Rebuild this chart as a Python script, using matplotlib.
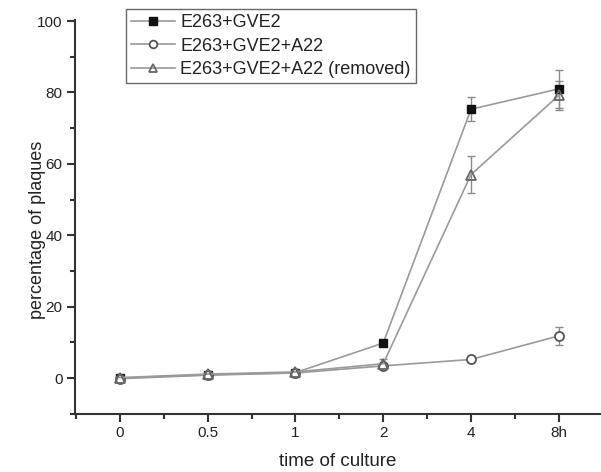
import matplotlib
matplotlib.use('Agg')
import matplotlib.pyplot as plt
from matplotlib.ticker import MultipleLocator
import numpy as np

plt.rcParams['font.family'] = ['Liberation Sans', 'DejaVu Sans']

# data
times = ['0', '0.5', '1', '2', '4', '8h']
gve2 = [0.0, 0.9, 1.5, 9.8, 75.3, 81.0]
gve2_err = [0.4, 0.5, 0.5, 0.6, 3.3, 5.3]
a22 = [-0.2, 0.8, 1.4, 3.4, 5.2, 11.8]
a22_err = [0.4, 0.4, 0.5, 0.6, 0.6, 2.6]
a22_removed = [0.1, 1.1, 1.7, 4.0, 57.0, 79.2]
a22_removed_err = [0.4, 0.5, 0.5, 1.4, 5.2, 4.0]

x = np.arange(len(times))

fig = plt.figure(figsize=(6.01, 4.72), dpi=100)
ax = fig.add_axes([75 / 601, 58.3 / 472, 526 / 601, 393.7 / 472])

line_col = '#9a9a9a'
err_kw = dict(fmt='none', ecolor='#8a8a8a', elinewidth=1.0, capsize=3, capthick=1.0)

# error bars first, kept out of the legend
ax.errorbar(x, gve2, yerr=gve2_err, **err_kw)
ax.errorbar(x, a22, yerr=a22_err, **err_kw)
ax.errorbar(x, a22_removed, yerr=a22_removed_err, **err_kw)

ax.plot(x, gve2, color=line_col, lw=1.2, marker='s',
        ms=6, mfc='#111111', mec='#111111', label='E263+GVE2')
ax.plot(x, a22, color=line_col, lw=1.2, marker='o',
        ms=6.5, mfc='white', mec='#555555', mew=1.3, label='E263+GVE2+A22')
ax.plot(x, a22_removed, color=line_col, lw=1.2, marker='^',
        ms=7, mfc='none', mec='#666666', mew=1.3, label='E263+GVE2+A22 (removed)')

ax.set_xlim(-0.51, 5.48)
ax.set_ylim(-10, 100.3)
ax.set_xticks(x)
ax.set_xticklabels(times)
ax.xaxis.set_minor_locator(MultipleLocator(0.5))
ax.yaxis.set_major_locator(MultipleLocator(20))
ax.yaxis.set_minor_locator(MultipleLocator(10))

for side in ['top', 'right']:
    ax.spines[side].set_visible(False)
for side in ['left', 'bottom']:
    ax.spines[side].set_linewidth(1.5)
    ax.spines[side].set_color('#333333')

ax.tick_params(which='major', direction='out', length=6, width=1.5,
               color='#333333', labelsize=11, labelcolor='#222222', pad=3)
ax.tick_params(which='minor', direction='out', length=3.5, width=1.5,
               color='#333333')

ax.set_xlabel('time of culture', fontsize=13.5, color='#222222')
ax.set_ylabel('percentage of plaques', fontsize=13, color='#222222')
ax.xaxis.set_label_coords(0.5, -0.1)
ax.yaxis.set_label_coords(-0.055, 0.467)

leg = ax.legend(loc='upper left', bbox_to_anchor=(0.097, 1.028),
                borderaxespad=0, fontsize=13, frameon=True, fancybox=False,
                edgecolor='#444444', handlelength=2.4, handletextpad=0.3,
                borderpad=0.3, labelspacing=0.35, markerscale=0.85)
leg.get_frame().set_linewidth(1.0)
for t in leg.get_texts():
    t.set_color('#222222')

fig.savefig('out.png', dpi=100)
